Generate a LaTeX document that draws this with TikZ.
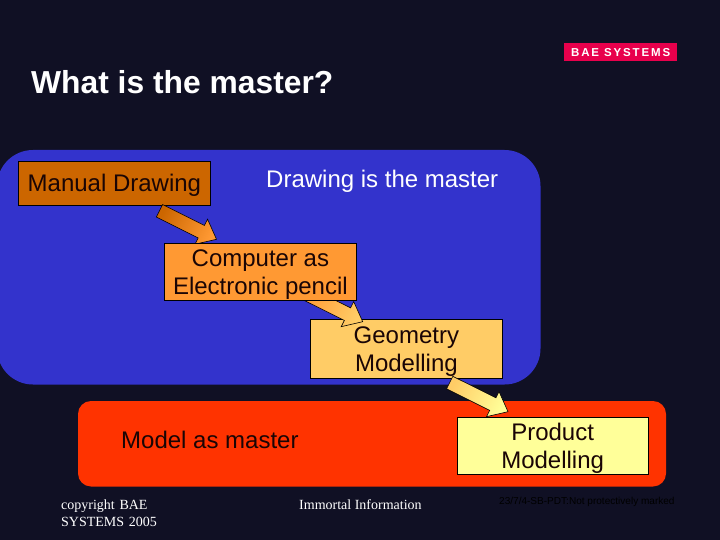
\documentclass[tikz,border=0pt]{standalone}
\usepackage{fontspec}
\setmainfont{Liberation Sans}
\newfontfamily\serifface{Liberation Serif}
\newfontfamily\logoface[LetterSpace=16]{Liberation Sans}
\usetikzlibrary{calc}
\definecolor{bgc}{HTML}{101024}
\definecolor{bluec}{HTML}{3333CC}
\definecolor{redc}{HTML}{FF3300}
\definecolor{boxa}{HTML}{CC6600}
\definecolor{boxb}{HTML}{FF9933}
\definecolor{boxc}{HTML}{FFCC66}
\definecolor{boxd}{HTML}{FFFF99}
\definecolor{logoc}{HTML}{E8004C}
\definecolor{inkc}{HTML}{1A0505}
\newcommand{\lowered}[2]{\raisebox{-#1}[\height][\depth]{\begin{tabular}{@{}c@{}}#2\end{tabular}}}
\tikzset{
  x=1pt,y=-1pt,
  stagebox/.style={draw=black,line width=0.8pt,anchor=north west,inner sep=0pt,align=center,text=inkc,font=\fontsize{24}{28.5}\selectfont},
  lighttext/.style={text=white,font=\fontsize{24}{28}\selectfont,inner sep=0pt},
  darktext/.style={text=inkc,font=\fontsize{24}{28}\selectfont,inner sep=0pt},
  footertext/.style={text=white,inner sep=0pt,anchor=north west,align=left,font=\serifface\fontsize{14}{17}\selectfont},
  blockarrow/.style={draw=black,line width=0.6pt,line join=miter}
}
% #1 tail, #2 tip, #3 start colour, #4 end colour, #5 shading angle
\newcommand{\blockarr}[5]{%
  \coordinate (neck) at ($(#2)!17pt!(#1)$);
  \shadedraw[blockarrow,left color=#3,right color=#4,shading angle=#5]
    ($(#1)!7pt!90:(#2)$) --
    ($(#1)!7pt!-90:(#2)$) --
    ($(neck)!7pt!90:(#1)$) --
    ($(neck)!14pt!90:(#1)$) --
    (#2) --
    ($(neck)!14pt!-90:(#1)$) --
    ($(neck)!7pt!-90:(#1)$) -- cycle;}
\begin{document}
\begin{tikzpicture}
\useasboundingbox (0,0) rectangle (720,540);
\fill[bgc] (0,0) rectangle (720,540);
\fill[bluec,rounded corners=36pt] (-3,150) rectangle (540.5,384.5);
\fill[redc,rounded corners=13pt] (78,401) rectangle (666,486.5);
\node[fill=logoc,minimum width=113pt,minimum height=18pt,inner sep=0pt,anchor=north west,text=white,font=\logoface\bfseries\fontsize{11.5}{12}\selectfont] (logo) at (564,43) {BAE SYSTEMS};
\node[text=white,anchor=west,inner sep=0pt,font=\bfseries\fontsize{31.8}{34}\selectfont] (title) at (31,82) {What is the master?};
\node[stagebox,fill=boxa,minimum width=192pt,minimum height=44pt] (manual) at (18,161) {\lowered{2pt}{Manual Drawing}};
\node[lighttext,anchor=west] (lblA) at (266,181.5) {Drawing is the master};
\node[stagebox,fill=boxc,minimum width=192pt,minimum height=59.5pt] (geom) at (310,318.5) {\lowered{3pt}{Geometry\\Modelling}};
\coordinate (tailA) at ($(manual.south west)+(141.5,5)$);
\coordinate (tipA) at ($(manual.south west)+(198.5,33.5)$);
\blockarr{tailA}{tipA}{boxa}{boxb}{63}
\coordinate (tailB) at ($(geom.north west)+(-10,-28)$);
\coordinate (tipB) at ($(geom.north west)+(52.7,3.2)$);
\blockarr{tailB}{tipB}{boxb}{boxc}{63}
\node[stagebox,fill=boxb,minimum width=192pt,minimum height=56.5pt] (comp) at (164,243) {\lowered{3pt}{Computer as\\Electronic pencil}};
\node[stagebox,fill=boxd,minimum width=191.5pt,minimum height=57.5pt] (prod) at (456.5,416.5) {\lowered{3pt}{Product\\Modelling}};
\coordinate (tailC) at ($(geom.south west)+(139.7,3.8)$);
\coordinate (tipC) at ($(prod.north west)+(51.5,-4.8)$);
\blockarr{tailC}{tipC}{boxc}{boxd}{63}
\node[darktext,anchor=west] (lblB) at (121,440) {Model as master};
\node[footertext,text width=110pt] (copy) at (61,499.5) {copyright BAE SYSTEMS 2005};
\node[footertext] (immortal) at (299,499) {Immortal Information};
\node[text=black,anchor=west,inner sep=0pt,font=\fontsize{10.05}{11}\selectfont] (mark) at (499,502) {23/7/4-SB-PDT:Not protectively marked};
\end{tikzpicture}
\end{document}
